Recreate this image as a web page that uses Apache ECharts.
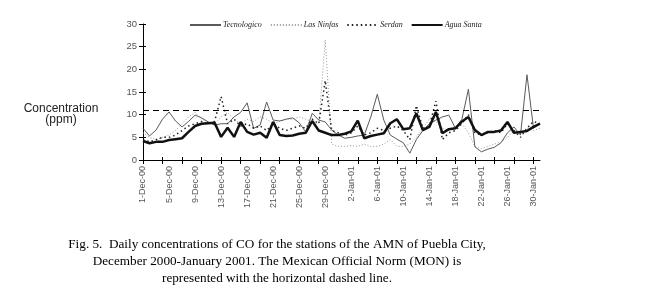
<!DOCTYPE html>
<html>
<head>
<meta charset="utf-8">
<script src="https://cdn.jsdelivr.net/npm/echarts@6/dist/echarts.min.js"></script>
<style>
  html, body { margin: 0; padding: 0; background: #fff; }
  #chart { width: 664px; height: 306px; }
</style>
</head>
<body>
<div id="chart"></div>
<script>
// days, 1-Dec-00 .. 31-Jan-01
var days = [
  '1-Dec-00','2-Dec-00','3-Dec-00','4-Dec-00','5-Dec-00','6-Dec-00','7-Dec-00','8-Dec-00',
  '9-Dec-00','10-Dec-00','11-Dec-00','12-Dec-00','13-Dec-00','14-Dec-00','15-Dec-00','16-Dec-00',
  '17-Dec-00','18-Dec-00','19-Dec-00','20-Dec-00','21-Dec-00','22-Dec-00','23-Dec-00','24-Dec-00',
  '25-Dec-00','26-Dec-00','27-Dec-00','28-Dec-00','29-Dec-00','30-Dec-00','31-Dec-00',
  '1-Jan-01','2-Jan-01','3-Jan-01','4-Jan-01','5-Jan-01','6-Jan-01','7-Jan-01','8-Jan-01',
  '9-Jan-01','10-Jan-01','11-Jan-01','12-Jan-01','13-Jan-01','14-Jan-01','15-Jan-01','16-Jan-01',
  '17-Jan-01','18-Jan-01','19-Jan-01','20-Jan-01','21-Jan-01','22-Jan-01','23-Jan-01','24-Jan-01',
  '25-Jan-01','26-Jan-01','27-Jan-01','28-Jan-01','29-Jan-01','30-Jan-01','31-Jan-01'
];

var tecnologico = [
  7.0, 5.3, 6.6, 9.0, 10.6, 8.6, 7.3, 8.5, 9.9, 9.3, 8.4, 7.7, 8.0, 8.0, 9.5, 10.5,
  12.6, 7.0, 7.7, 12.8, 8.8, 8.6, 9.0, 9.3, 8.2, 6.2, 10.3, 8.8, 8.4, 6.6, 5.5,
  4.8, 5.0, 5.3, 5.5, 9.5, 14.5, 8.8, 5.5, 4.6, 3.8, 1.5, 4.5, 6.5, 8.0, 8.8,
  9.5, 9.9, 7.0, 9.0, 15.6, 2.9, 1.8, 2.4, 2.8, 3.8, 6.0, 7.3, 5.5, 18.8, 7.0, 8.0
];
var lasNinfas = [
  6.0, 5.0, 4.5, 5.0, 5.5, 6.5, 8.0, 9.5, 10.5, 9.0, 8.5, 8.0, 9.5, 10.5, 9.0, 8.0,
  9.0, 8.5, 9.5, 9.0, 8.0, 8.5, 9.0, 9.0, 9.5, 9.0, 8.5, 8.0, 26.5, 3.5, 3.0,
  3.0, 3.2, 3.0, 3.5, 3.0, 3.0, 3.5, 4.5, 3.0, 3.0, 3.5, 5.0, 7.0, 9.0, 8.5,
  7.0, 6.5, 7.5, 8.0, 6.0, 3.0, 2.5, 3.0, 3.5, 4.0, 5.0, 6.5, 6.0, 7.0, 6.5, 7.0
];
var serdan = [
  4.5, 4.0, 4.5, 5.0, 5.0, 5.5, 6.5, 7.5, 8.0, 8.5, 8.0, 8.5, 14.0, 8.0, 9.0, 7.5,
  8.0, 7.0, 7.5, 6.5, 8.0, 7.0, 6.5, 7.0, 7.5, 7.0, 9.0, 8.0, 17.5, 6.5, 6.0,
  5.5, 6.0, 7.5, 5.5, 6.0, 7.0, 6.5, 7.0, 7.5, 6.5, 4.5, 12.0, 7.0, 7.5, 13.0,
  4.5, 6.0, 6.5, 8.0, 10.0, 6.0, 5.5, 6.0, 6.5, 6.0, 8.0, 6.5, 5.0, 7.0, 8.5, 8.0
];
var aguaSanta = [
  4.2, 3.7, 4.0, 4.0, 4.4, 4.6, 4.8, 6.2, 7.5, 8.0, 8.1, 8.2, 5.1, 7.1, 5.1, 8.4,
  6.2, 5.6, 6.0, 4.9, 8.4, 5.5, 5.3, 5.4, 5.8, 6.0, 8.6, 6.5, 6.0, 5.5, 5.5,
  5.8, 6.3, 8.7, 4.8, 5.3, 5.6, 5.9, 8.1, 9.0, 6.8, 7.0, 10.3, 6.6, 7.3, 10.6,
  5.9, 6.8, 7.0, 8.5, 9.5, 6.6, 5.5, 6.2, 6.2, 6.5, 8.4, 6.0, 6.2, 6.4, 7.3, 8.0
];

var yTicks = [0, 5, 10, 15, 20, 25, 30];
var norm = 11; // Mexican Official Norm (MON)

var chart = echarts.init(document.getElementById('chart'));

var axisFont = { fontFamily: 'Liberation Sans, Arial', fontSize: 9, color: '#555' };

var option = {
    animation: false,
    backgroundColor: '#fff',
    legend: {
        left: 184,
        top: 16,
        itemWidth: 31,
        itemHeight: 6,
        itemGap: 8,
        itemStyle: { opacity: 0 },   // line only, no symbol
        textStyle: {
            fontFamily: 'Liberation Serif',
            fontStyle: 'italic',
            fontSize: 8,
            color: '#222',
            padding: [0, 0, 0, -3]
        },
        data: ['Tecnologico', 'Las Ninfas', 'Serdan', 'Agua Santa']
    },
    grid: {
        left: 143,
        top: 24,
        width: 397,
        height: 136
    },
    xAxis: [
        {
            type: 'category',
            boundaryGap: false,
            data: days,
            axisLine: { lineStyle: { color: '#000', width: 1 } },
            axisTick: { interval: 2, length: 4, lineStyle: { color: '#000' } },
            axisLabel: {
                interval: 3,
                rotate: 90,
                margin: 6,
                fontFamily: axisFont.fontFamily,
                fontSize: axisFont.fontSize,
                color: axisFont.color
            },
            splitLine: { show: false }
        },
        {   // ticks crossing to the inside
            type: 'category',
            boundaryGap: false,
            position: 'bottom',
            data: days,
            axisLine: { show: false },
            axisTick: { interval: 2, inside: true, length: 3, lineStyle: { color: '#000' } },
            axisLabel: { show: false },
            splitLine: { show: false }
        }
    ],
    yAxis: [
        {
            type: 'value',
            min: 0,
            max: 30,
            interval: 5,
            axisLine: { show: true, lineStyle: { color: '#000', width: 1 } },
            axisTick: { show: true, length: 4, lineStyle: { color: '#000' } },
            axisLabel: {
                margin: 6,
                fontFamily: axisFont.fontFamily,
                fontSize: 9.5,
                color: axisFont.color,
                formatter: function (v) { return yTicks.indexOf(v) >= 0 ? String(v) : ''; }
            },
            splitLine: { show: false }
        },
        {
            type: 'value',
            position: 'left',
            min: 0,
            max: 30,
            interval: 5,
            axisLine: { show: false },
            axisTick: { show: true, inside: true, length: 3, lineStyle: { color: '#000' } },
            axisLabel: { show: false },
            splitLine: { show: false }
        }
    ],
    series: [
        {
            name: 'Tecnologico',
            type: 'line',
            symbol: 'none',
            data: tecnologico,
            lineStyle: { color: '#5a5a5a', width: 1 },
            itemStyle: { color: '#5a5a5a' },
            z: 3
        },
        {
            name: 'Las Ninfas',
            type: 'line',
            symbol: 'none',
            data: lasNinfas,
            lineStyle: { color: '#999', width: 1, type: [1, 2] },
            itemStyle: { color: '#999' },
            z: 2
        },
        {
            name: 'Serdan',
            type: 'line',
            symbol: 'none',
            data: serdan,
            lineStyle: { color: '#222', width: 1.5, type: [1.5, 3] },
            itemStyle: { color: '#222' },
            z: 4
        },
        {
            name: 'Agua Santa',
            type: 'line',
            symbol: 'none',
            data: aguaSanta,
            lineStyle: { color: '#111', width: 2.5 },
            itemStyle: { color: '#111' },
            z: 5,
            markLine: {
                silent: true,
                symbol: 'none',
                label: { show: false },
                lineStyle: { color: '#000', width: 1.2, type: [6, 4] },
                data: [{ yAxis: norm }]
            }
        }
    ],
    graphic: [
        {
            type: 'text',
            style: {
                x: 61,
                y: 103,
                text: 'Concentration\n(ppm)',
                textAlign: 'center',
                font: '12px Liberation Sans, Arial',
                lineHeight: 11,
                fill: '#222'
            }
        },
        {
            type: 'text',
            style: {
                x: 277,
                y: 236,
                text: 'Fig. 5.  Daily concentrations of CO for the stations of the AMN of Puebla City,\n' +
                      'December 2000-January 2001. The Mexican Official Norm (MON) is\n' +
                      'represented with the horizontal dashed line.',
                textAlign: 'center',
                font: '13.2px Liberation Serif',
                lineHeight: 17,
                fill: '#000'
            }
        }
    ]
};

chart.setOption(option);
</script>
</body>
</html>
